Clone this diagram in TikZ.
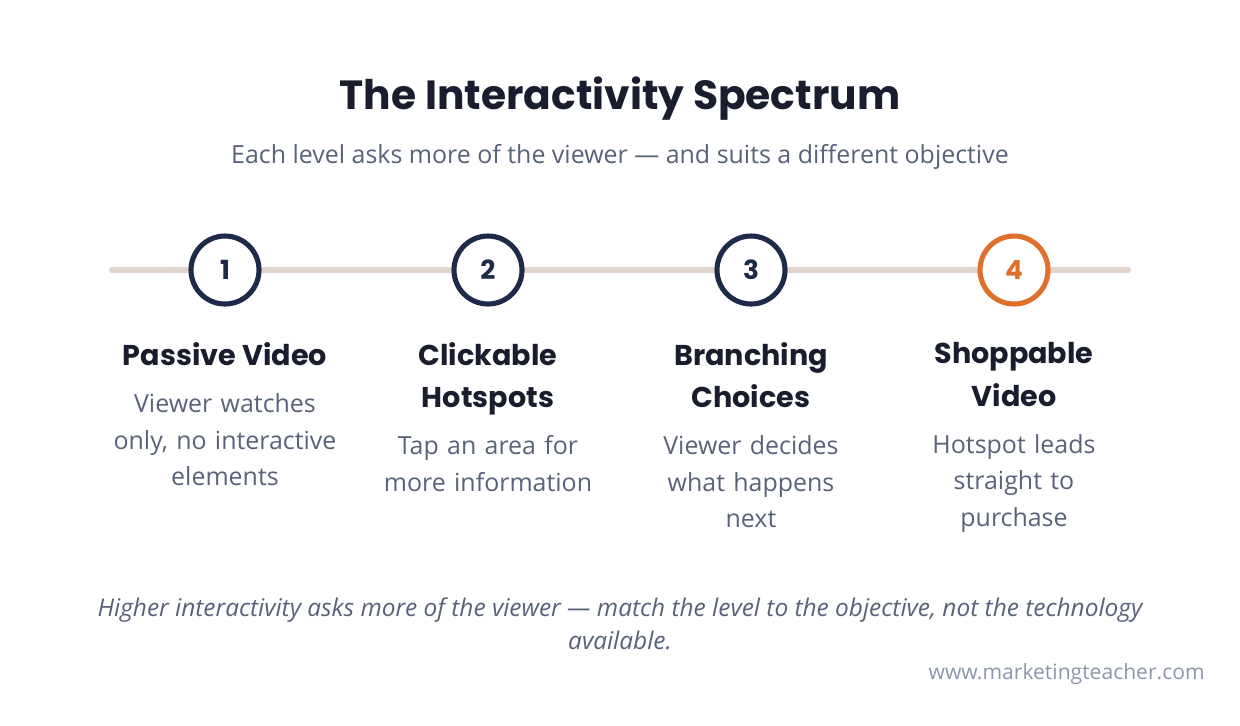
\documentclass[tikz,border=0pt]{standalone}
\usepackage{fontspec}
\setmainfont{Open Sans}
\newfontfamily\headfont{Poppins}
\usetikzlibrary{positioning}
\definecolor{navy}{RGB}{30,42,74}
\definecolor{ink}{RGB}{26,29,46}
\definecolor{slate}{RGB}{88,98,120}
\definecolor{mist}{RGB}{140,150,170}
\definecolor{track}{RGB}{226,212,205}
\definecolor{accent}{RGB}{222,112,44}

\begin{document}
\begin{tikzpicture}[
  x=0.02cm, y=-0.02cm,
  stepdot/.style={circle, draw=navy, line width=2.9pt, fill=white, minimum size=1.36cm, inner sep=0pt,
    text=navy, font=\headfont\bfseries\fontsize{15}{15}\selectfont},
  head/.style={align=center, text=ink, font=\headfont\bfseries\fontsize{16.3}{24}\selectfont,
    execute at end node={\vphantom{p}}},
  desc/.style={align=center, text=slate, text width=4.8cm, font=\fontsize{14.2}{20.8}\selectfont},
  rail/.style={draw=track, line width=3.4pt, line cap=round}
]
\useasboundingbox (0,0) rectangle (1240,725);
\node[text=ink, font=\headfont\bfseries\fontsize{23.2}{26}\selectfont] (title) at (620,99) {The Interactivity Spectrum};
\node[text=slate, font=\fontsize{14.2}{17}\selectfont] (sub) at (620,157) {Each level asks more of the viewer — and suits a different objective};
\coordinate (railL) at (112,270);
\coordinate (railR) at (1128,270);
\draw[rail] (railL) -- (railR);
\node[stepdot] (step1) at (225,270) {1};
\node[stepdot] (step2) at (488,270) {2};
\node[stepdot] (step3) at (751,270) {3};
\node[stepdot, draw=accent, text=accent] (step4) at (1014,270) {4};
\node[head, below=0.6cm of step1] (head1) {Passive Video};
\node[head, below=0.6cm of step2] (head2) {Clickable\\Hotspots};
\node[head, below=0.6cm of step3] (head3) {Branching\\Choices};
\node[head, below=0.6cm of step4] (head4) {Shoppable\\Video};
\node[desc, below=0.16cm of head1] (desc1) {Viewer watches\\only, no interactive\\elements};
\node[desc, below=0.16cm of head2] (desc2) {Tap an area for\\more information};
\node[desc, below=0.16cm of head3] (desc3) {Viewer decides\\what happens\\next};
\node[desc, below=0.16cm of head4] (desc4) {Hotspot leads\\straight to\\purchase};
\node[align=center, text=slate, font=\itshape\fontsize{13.9}{18.7}\selectfont] (note) at (620,624)
  {Higher interactivity asks more of the viewer — match the level to the objective, not the technology\\available.};
\node[text=mist, font=\fontsize{12}{14}\selectfont, anchor=east, inner sep=0pt] (url) at (1205,674) {www.marketingteacher.com};
\end{tikzpicture}
\end{document}
